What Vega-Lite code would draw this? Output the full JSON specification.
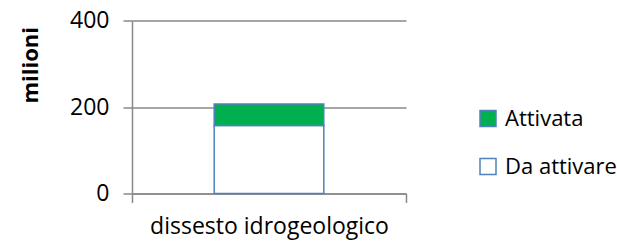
{
  "$schema": "https://vega.github.io/schema/vega-lite/v6.json",
  "autosize": {"type": "none"},
  "padding": {"left": 132, "top": 20.5, "right": 211, "bottom": 47.5},
  "width": 274,
  "height": 173,
  "background": "white",
  "config": {
    "view": {"stroke": null},
    "font": "Open Sans"
  },
  "data": {
    "values": [
      {"categoria": "dissesto idrogeologico", "stato": "Da attivare", "valore": 157},
      {"categoria": "dissesto idrogeologico", "stato": "Attivata", "valore": 50}
    ]
  },
  "mark": {"type": "bar", "stroke": "#4F81BD", "strokeWidth": 1.5, "width": {"band": 0.4}},
  "encoding": {
    "x": {
      "field": "categoria",
      "type": "nominal",
      "scale": {"paddingInner": 0, "paddingOuter": 0},
      "axis": {
        "title": null,
        "labelAngle": 0,
        "labelFontSize": 23,
        "labelLimit": 0,
        "labelColor": "#000000",
        "labelPadding": 13,
        "tickBand": "extent",
        "tickSize": 9,
        "tickColor": "#888888",
        "tickWidth": 1.5,
        "domainColor": "#888888",
        "domainWidth": 1.5
      }
    },
    "y": {
      "field": "valore",
      "type": "quantitative",
      "stack": "zero",
      "scale": {"domain": [0, 400]},
      "axis": {
        "title": "milioni",
        "titleFontSize": 22,
        "titleFontWeight": "bold",
        "titleColor": "#000000",
        "titleAngle": -90,
        "titleAlign": "right",
        "titleBaseline": "middle",
        "titleX": -101.5,
        "titleY": 6,
        "values": [0, 200, 400],
        "labelFontSize": 23,
        "labelColor": "#000000",
        "labelPadding": 14,
        "tickSize": 9,
        "tickColor": "#888888",
        "tickWidth": 1.5,
        "grid": true,
        "gridColor": "#888888",
        "gridWidth": 1.5,
        "domainColor": "#888888",
        "domainWidth": 1.5
      }
    },
    "color": {
      "field": "stato",
      "type": "nominal",
      "scale": {"domain": ["Attivata", "Da attivare"], "range": ["#00B050", "#FFFFFF"]},
      "legend": {
        "title": null,
        "orient": "none",
        "legendX": 345,
        "legendY": 87,
        "symbolType": "square",
        "symbolSize": 256,
        "symbolStrokeColor": "#4F81BD",
        "symbolStrokeWidth": 1.5,
        "symbolOpacity": 1,
        "labelFontSize": 22,
        "labelLimit": 0,
        "labelColor": "#000000",
        "labelOffset": 6,
        "rowPadding": 26
      }
    },
    "order": {"field": "stato", "sort": "descending"}
  }
}
